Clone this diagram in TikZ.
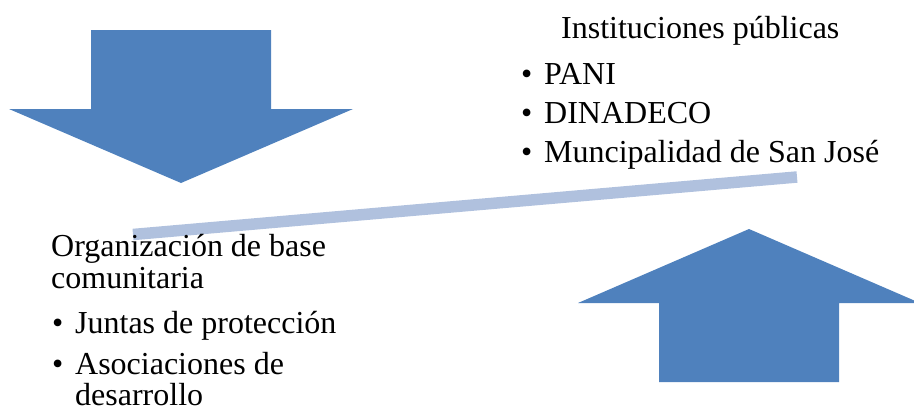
\documentclass[tikz,border=0pt]{standalone}
\usepackage{fontspec}
\setmainfont{Liberation Serif}
\usetikzlibrary{positioning}
\definecolor{ArrowBlue}{HTML}{4F81BD}
\definecolor{BeamBlue}{HTML}{B0C1DE}
\tikzset{
    bigarrow/.style = {fill=ArrowBlue, draw=none},
    beam/.style = {draw=BeamBlue, line width=11.5pt},
    words/.style = {inner sep=0pt, anchor=base west,
        font=\fontsize{32}{38}\selectfont}
}
\newcommand{\bul}{\makebox[23pt][l]{•}}

\begin{document}
\begin{tikzpicture}[x=1pt,y=-1pt]
        \useasboundingbox (0,0) rectangle (914,410);
        % down arrow
        \fill[bigarrow] (91,30) -- (271,30) -- (271,109) -- (353,109) -- (181,183) -- (9,109) -- (91,109) -- cycle;
        % up arrow
        \fill[bigarrow] (659,382) -- (839,382) -- (839,303) -- (920,303) -- (749,229) -- (578,303) -- (659,303) -- cycle;
        % beam
        \draw[beam] (133,234.5) -- (797,177);
        % public side
        \node[words] (inst) at (561,38) {Instituciones públicas};
        \foreach \y/\t [count=\i] in {84/PANI,123/DINADECO,162/Muncipalidad de San José}{
            \node[words] (pub\i) at (521,\y) {\bul\t};
        }
        % community side
        \node[words] (orgA) at (51,256) {Organización de base};
        \node[words] (orgB) at (51,288) {comunitaria};
        \node[words] (juntas) at (52,333) {\bul Juntas de protección};
        \node[words] (asoc) at (52,374) {\bul Asociaciones de};
        \node[words] (desa) at (75,405) {desarrollo};
        \end{tikzpicture}
\end{document}
